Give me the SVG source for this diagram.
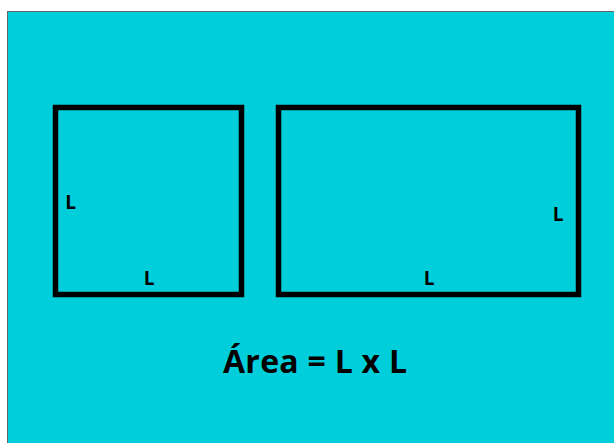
<svg xmlns="http://www.w3.org/2000/svg" width="614" height="443" viewBox="0 0 614 443">
<style>
.shape{fill:none;stroke:#000;stroke-width:5.5}
.lbl{font-family:"Open Sans","Noto Sans","Liberation Sans",sans-serif;font-weight:bold;font-size:19px;fill:#000}
.title{font-family:"Open Sans","Noto Sans","Liberation Sans",sans-serif;font-weight:bold;font-size:32px;fill:#000}
</style>
<rect x="0" y="0" width="614" height="443" fill="#fff"/>
<rect x="7.5" y="11.5" width="608" height="433" fill="#00CFDB" stroke="#666" stroke-width="1"/>
<g id="square">
<rect class="shape" x="55.5" y="107.5" width="186" height="187"/>
<text class="lbl" x="70.5" y="209" text-anchor="middle">L</text>
<text class="lbl" x="149" y="285" text-anchor="middle">L</text>
</g>
<g id="rectangle">
<rect class="shape" x="278.5" y="107.5" width="300" height="187"/>
<text class="lbl" x="558" y="221" text-anchor="middle">L</text>
<text class="lbl" x="429" y="285" text-anchor="middle">L</text>
</g>
<g id="formula">
<text class="title" x="223" y="373" textLength="184" lengthAdjust="spacing">Área = L x L</text>
</g>
</svg>
